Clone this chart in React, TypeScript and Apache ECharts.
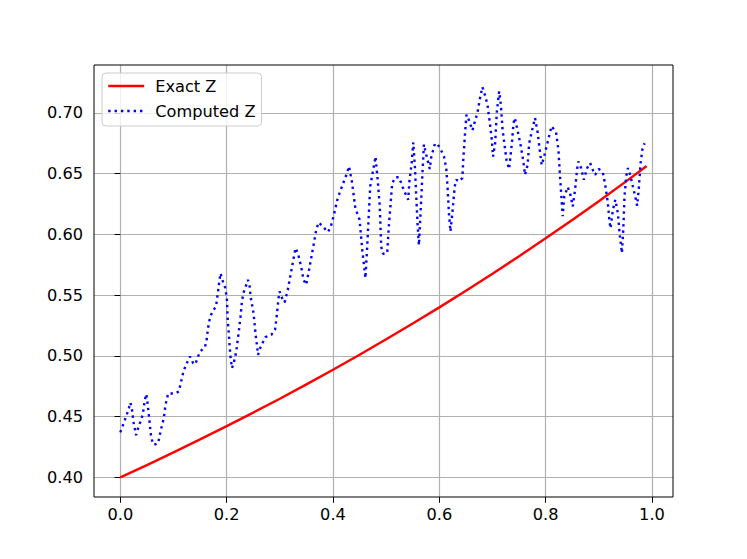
import React, { useEffect, useRef } from "react";
import * as echarts from "echarts";

// Exact Z curve
const exactX = [0, 0.05, 0.1, 0.15, 0.2, 0.25, 0.3, 0.35, 0.4, 0.45, 0.5, 0.55, 0.6, 0.65, 0.7, 0.75, 0.8, 0.85, 0.9, 0.95, 0.99];
const exactZ = [0.4, 0.4101, 0.4205, 0.4312, 0.4421, 0.4533, 0.4647, 0.4765, 0.4886, 0.5009, 0.5136, 0.5266, 0.5399, 0.5536, 0.5676, 0.582, 0.5967, 0.6118, 0.6273, 0.6432, 0.6562];

// Computed Z curve
const computedX = [
  0.0, 0.005, 0.0125, 0.016, 0.019, 0.022, 0.025, 0.0295, 0.035, 0.0396, 0.0426, 0.046, 0.049, 0.052, 0.0547, 0.057, 0.06, 0.063, 0.071,
  0.076, 0.0817, 0.085, 0.09, 0.103, 0.11, 0.115, 0.118, 0.1226, 0.128, 0.131, 0.137, 0.141, 0.145, 0.15, 0.159, 0.162, 0.165, 0.169,
  0.174, 0.18, 0.1835, 0.1865, 0.1885, 0.193, 0.1975, 0.2006, 0.202, 0.204, 0.2056, 0.2075, 0.21, 0.2136, 0.218, 0.2225, 0.226, 0.229,
  0.2325, 0.237, 0.24, 0.243, 0.245, 0.2506, 0.2545, 0.2577, 0.259, 0.263, 0.268, 0.273, 0.284, 0.291, 0.294, 0.2976, 0.2995, 0.3056,
  0.309, 0.315, 0.3214, 0.3295, 0.334, 0.34, 0.3445, 0.3496, 0.3545, 0.363, 0.3685, 0.373, 0.382, 0.39, 0.395, 0.401, 0.409, 0.417,
  0.4264, 0.43, 0.436, 0.442, 0.45, 0.455, 0.461, 0.464, 0.47, 0.48, 0.484, 0.488, 0.4906, 0.494, 0.502, 0.505, 0.508, 0.5113, 0.5175,
  0.524, 0.533, 0.5415, 0.544, 0.548, 0.551, 0.554, 0.5566, 0.559, 0.5616, 0.5647, 0.568, 0.571, 0.574, 0.5785, 0.582, 0.585, 0.5917,
  0.596, 0.6025, 0.6087, 0.613, 0.6157, 0.618, 0.621, 0.6245, 0.629, 0.632, 0.637, 0.6434, 0.645, 0.6484, 0.651, 0.6547, 0.658, 0.6623,
  0.665, 0.6717, 0.676, 0.681, 0.6855, 0.6906, 0.695, 0.6987, 0.701, 0.705, 0.708, 0.7125, 0.7157, 0.719, 0.723, 0.7264, 0.7313, 0.7364,
  0.7396, 0.742, 0.747, 0.7534, 0.7585, 0.761, 0.766, 0.769, 0.774, 0.78, 0.785, 0.788, 0.7925, 0.797, 0.804, 0.811, 0.8195, 0.824,
  0.827, 0.83, 0.832, 0.835, 0.8415, 0.8465, 0.851, 0.8553, 0.859, 0.8615, 0.8666, 0.8717, 0.878, 0.8836, 0.8887, 0.893, 0.9, 0.9075,
  0.912, 0.917, 0.92, 0.922, 0.9264, 0.931, 0.9358, 0.939, 0.9434, 0.946, 0.9483, 0.9515, 0.9547, 0.9597, 0.964, 0.9685, 0.972, 0.975,
  0.9785, 0.982, 0.986,
];
const computedZ = [
  0.437, 0.443, 0.452, 0.457, 0.4615, 0.4555, 0.445, 0.4347, 0.4426, 0.4478, 0.4527, 0.4637, 0.4685, 0.458, 0.4472, 0.4362, 0.43, 0.4267, 0.428,
  0.4385, 0.4486, 0.4596, 0.469, 0.469, 0.4706, 0.48, 0.4857, 0.4917, 0.4967, 0.4994, 0.494, 0.493, 0.498, 0.5035, 0.507, 0.512, 0.5228, 0.5324,
  0.5365, 0.541, 0.5517, 0.5626, 0.568, 0.561, 0.5558, 0.546, 0.5297, 0.5187, 0.5077, 0.498, 0.4899, 0.4945, 0.5035, 0.5187, 0.532, 0.546,
  0.553, 0.5585, 0.5625, 0.5585, 0.5488, 0.535, 0.5173, 0.5063, 0.5008, 0.5063, 0.511, 0.5154, 0.5173, 0.5214, 0.532, 0.5475, 0.553, 0.546,
  0.544, 0.5544, 0.5695, 0.5887, 0.5845, 0.5736, 0.5626, 0.5585, 0.5695, 0.59, 0.6038, 0.6098, 0.606, 0.6019, 0.605, 0.6148, 0.63, 0.6395,
  0.6505, 0.656, 0.6423, 0.6217, 0.612, 0.5873, 0.564, 0.587, 0.6395, 0.664, 0.645, 0.623, 0.59, 0.584, 0.5846, 0.6065, 0.623, 0.642, 0.647,
  0.647, 0.6367, 0.6285, 0.645, 0.6587, 0.6757, 0.656, 0.631, 0.6093, 0.591, 0.6175, 0.6477, 0.674, 0.668, 0.66, 0.6538, 0.664, 0.6746,
  0.6746, 0.67, 0.664, 0.6546, 0.6367, 0.6175, 0.6024, 0.6175, 0.6395, 0.645, 0.6436, 0.6464, 0.661, 0.6834, 0.6985, 0.695, 0.691, 0.6856,
  0.69, 0.7, 0.711, 0.7213, 0.715, 0.7067, 0.6917, 0.678, 0.664, 0.675, 0.7, 0.7177, 0.7067, 0.686, 0.6724, 0.661, 0.6538, 0.675,
  0.6917, 0.6958, 0.686, 0.6724, 0.6587, 0.649, 0.657, 0.675, 0.6848, 0.6958, 0.6835, 0.6724, 0.657, 0.664, 0.6765, 0.689, 0.684, 0.6697,
  0.6477, 0.6285, 0.615, 0.6312, 0.639, 0.6326, 0.623, 0.6367, 0.6532, 0.66, 0.6546, 0.645, 0.6546, 0.6587, 0.653, 0.649, 0.6538, 0.651,
  0.641, 0.6258, 0.6106, 0.605, 0.62, 0.6285, 0.6175, 0.601, 0.5846, 0.604, 0.6312, 0.6477, 0.6546, 0.6477, 0.6395, 0.6312, 0.6236, 0.6367,
  0.6587, 0.67, 0.675,
];

const xTicks = [0, 0.2, 0.4, 0.6, 0.8, 1.0];
const yTicks = [0.4, 0.45, 0.5, 0.55, 0.6, 0.65, 0.7];

const FONT = "DejaVu Sans";

export default function App() {
  const ref = useRef<HTMLDivElement>(null);
  useEffect(() => {
    if (!ref.current) return;
    const chart = echarts.init(ref.current, null, { renderer: "svg" });
    const exactData = exactX.map((x, i) => [x, exactZ[i]]);
    const compData = computedX.map((x, i) => [x, computedZ[i]]);
    chart.setOption({
      animation: false,
      backgroundColor: "#ffffff",
      grid: {
        show: true,
        left: 94,
        top: 65,
        width: 579,
        height: 432,
        borderColor: "#000000",
        borderWidth: 1,
        backgroundColor: "transparent",
        z: 3,
      },
      legend: {
        data: ["Exact Z", "Computed Z"],
        orient: "vertical",
        left: 102,
        top: 73,
        backgroundColor: "rgba(255,255,255,0.8)",
        borderColor: "#cccccc",
        borderWidth: 1,
        borderRadius: 4,
        padding: [5, 6, 7, 5],
        itemWidth: 36,
        itemHeight: 16,
        itemGap: 9,
        itemStyle: { opacity: 0, borderWidth: 0 },
        lineStyle: { width: 2.4 },
        textStyle: { fontFamily: FONT, fontSize: 16.2, color: "#000000", padding: [0, 0, 0, 6] },
      },
      xAxis: {
        type: "value",
        min: -0.0495,
        max: 1.0395,
        minInterval: 0.2,
        maxInterval: 0.2,
        axisLine: { show: false },
        axisTick: { show: true, length: 5.8, customValues: xTicks, lineStyle: { color: "#000000", width: 1 } },
        axisLabel: {
          customValues: xTicks,
          formatter: (v: number) => v.toFixed(1),
          fontFamily: FONT,
          fontSize: 16.2,
          color: "#000000",
          margin: 9,
        },
        splitLine: { show: true, lineStyle: { color: "#b0b0b0", width: 1.2 } },
      },
      yAxis: {
        type: "value",
        min: 0.3838,
        max: 0.7394,
        minInterval: 0.05,
        maxInterval: 0.05,
        axisLine: { show: false },
        axisTick: { show: true, length: 5.8, customValues: yTicks, lineStyle: { color: "#000000", width: 1 } },
        axisLabel: {
          customValues: yTicks,
          formatter: (v: number) => v.toFixed(2),
          fontFamily: FONT,
          fontSize: 16.2,
          color: "#000000",
          margin: 11,
        },
        splitLine: { show: true, lineStyle: { color: "#b0b0b0", width: 1.2 } },
      },
      series: [
        {
          name: "Exact Z",
          type: "line",
          data: exactData,
          symbol: "none",
          smooth: false,
          color: "#ff0000",
          lineStyle: { color: "#ff0000", width: 2.4 },
          z: 2,
        },
        {
          name: "Computed Z",
          type: "line",
          data: compData,
          symbol: "none",
          smooth: false,
          color: "#0000ff",
          lineStyle: { color: "#0000ff", width: 2.4, type: [2.4, 3.96], cap: "butt" },
          z: 2,
        },
      ],
    });
    return () => chart.dispose();
  }, []);
  return (
    <div
      ref={ref}
      style={{ position: "absolute", left: 0, top: 0, width: 747, height: 559, background: "#ffffff" }}
    />
  );
}
